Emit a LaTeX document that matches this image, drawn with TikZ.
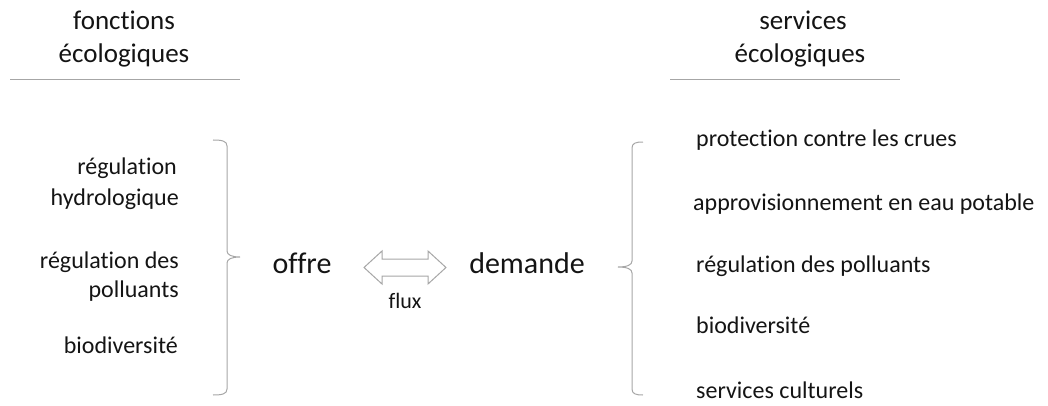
\documentclass[tikz,border=0pt]{standalone}
\usepackage{fontspec}
\setmainfont{Carlito}[Ligatures=NoCommon]
\definecolor{ink}{HTML}{141414}
\definecolor{rule}{HTML}{A6A6A6}
\begin{document}
\begin{tikzpicture}[x=1pt,y=-1pt,
  txt/.style={inner sep=0pt,text=ink},
  head/.style={txt,anchor=base,font=\fontsize{27}{33}\selectfont},
  item/.style={txt,font=\fontsize{24}{29}\selectfont},
  litem/.style={item,anchor=base east},
  ritem/.style={item,anchor=base west},
  big/.style={txt,anchor=base,font=\fontsize{30}{36}\selectfont},
  brace/.style={draw=rule,line width=1pt},
  hrule/.style={draw=rule,line width=1pt}]
\useasboundingbox (0,0) rectangle (1048,406);

% column headings
\node[head] (fh1) at (124,30) {fonctions};
\node[head] (fh2) at (124,63) {écologiques};
\node[head] (sh1) at (803,30) {services};
\node[head] (sh2) at (800,63) {écologiques};
\coordinate (fl1) at (10,80);  \coordinate (fl2) at (240,80);
\coordinate (sl1) at (670,80); \coordinate (sl2) at (900,80);
\draw[hrule] (fl1) -- (fl2);
\draw[hrule] (sl1) -- (sl2);

% ecological functions
\node[litem] (f1a) at (177,175) {régulation};
\node[litem] (f1b) at (179,205) {hydrologique};
\node[litem] (f2a) at (179,268) {régulation des};
\node[litem] (f2b) at (179,297) {polluants};
\node[litem] (f3)  at (178,353) {biodiversité};

% left brace
\draw[brace] (213,140) .. controls (222,140) and (227,141) .. (227,146)
  -- (227,251) .. controls (227,255) and (232,257) .. (240,257)
  .. controls (232,257) and (227,259) .. (227,263)
  -- (227,389) .. controls (227,394) and (222,395) .. (213,395);

% supply and demand
\node[big] (offre) at (302,273) {offre};
\node[big] (demande) at (527,273) {demande};

% flow arrow
\draw[draw=rule,fill=white,line width=1pt,line join=miter]
  (364,267.5) -- (382,251) -- (382,259) -- (428,259) -- (428,251)
  -- (446,267.5) -- (428,284) -- (428,276) -- (382,276) -- (382,284) -- cycle;
\node[txt,anchor=base,font=\fontsize{22}{26}\selectfont] (flux) at (405,308) {flux};

% right brace
\draw[brace] (643,142) .. controls (636,142) and (632,143) .. (632,148)
  -- (632,261) .. controls (632,265) and (627,267) .. (618,267)
  .. controls (627,267) and (632,269) .. (632,273)
  -- (632,389) .. controls (632,394) and (636,395) .. (643,395);

% ecological services
\node[ritem] (s1) at (696,147) {protection contre les crues};
\node[ritem] (s2) at (693,210) {approvisionnement en eau potable};
\node[ritem] (s3) at (696,272) {régulation des polluants};
\node[ritem] (s4) at (696,333) {biodiversité};
\node[ritem] (s5) at (696,398) {services culturels};
\end{tikzpicture}
\end{document}
